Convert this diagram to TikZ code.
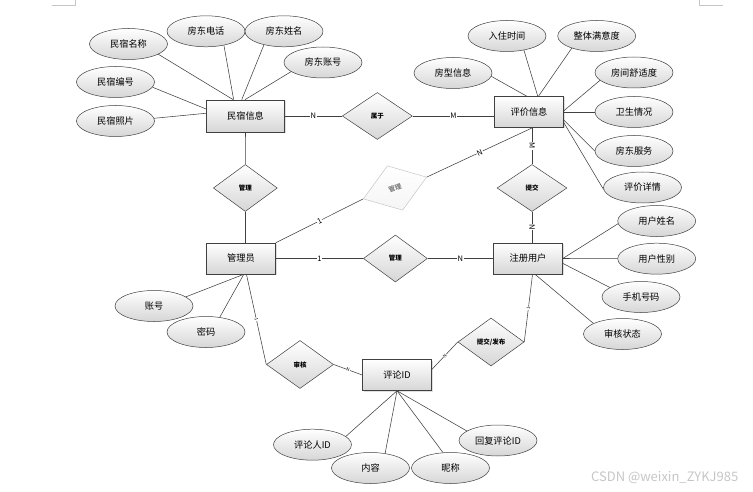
\documentclass[tikz,border=0pt]{standalone}
\usepackage{fontspec}
\setmainfont{Noto Sans CJK SC}
\usetikzlibrary{shapes.geometric}
\usetikzlibrary{shadows}

\definecolor{lnc}{HTML}{404040}
\definecolor{shd}{HTML}{D6D6D6}

\begin{document}
\begin{tikzpicture}[x=1pt,y=-1pt,
    ln/.style={draw=lnc,line width=0.55pt},
    ent/.style={draw=lnc,line width=0.6pt,top color=white,bottom color=shd,
        minimum width=69,minimum height=31,inner sep=0pt,
        font=\fontsize{9.2}{10}\selectfont,
        drop shadow={opacity=0.25,shadow xshift=1pt,shadow yshift=-1pt}},
    attr/.style={ellipse,draw=lnc,line width=0.5pt,top color=white,bottom color=shd,
        minimum width=78,minimum height=31,inner sep=0pt,
        font=\fontsize{9.2}{10}\selectfont},
    rel/.style={diamond,draw=lnc,line width=0.5pt,top color=white,bottom color=shd,
        minimum width=66,minimum height=47,inner sep=0pt,
        font=\fontsize{6.5}{7}\selectfont\bfseries},
    lab/.style={fill=white,inner sep=0.5pt,sloped,font=\fontsize{7.5}{8}\selectfont},
    tick/.style={fill=white,inner sep=0.3pt,sloped,font=\fontsize{4.5}{5}\selectfont}]

\useasboundingbox (0,0) rectangle (753,492);

\draw[gray!45] (51.7,5.3) -- (75,5.3) -- (75,0);
\draw[gray!45] (699,0) -- (699,5.3) -- (722.7,5.3);

\node[ent,minimum width=78,minimum height=32] (msxx) at (245.5,116) {民宿信息};
\node[ent] (pjxx) at (529,112) {评价信息};
\node[ent] (gly) at (241,258.5) {管理员};
\node[ent] (zcyh) at (528,258.5) {注册用户};
\node[ent] (plid) at (397,375) {评论ID};

\node[attr] (mscm) at (128.5,44) {民宿名称};
\node[attr] (fddh) at (206,31.3) {房东电话};
\node[attr] (fdxm) at (284,31.3) {房东姓名};
\node[attr] (fdzh) at (323,62.5) {房东账号};
\node[attr] (msbh) at (115.5,82) {民宿编号};
\node[attr] (mszp) at (115.5,121) {民宿照片};

\node[attr] (fxxx) at (453,73) {房型信息};
\node[attr] (rzsj) at (507,36) {入住时间};
\node[attr] (ztmyd) at (596.7,36) {整体满意度};
\node[attr] (fjssd) at (634,72.5) {房间舒适度};
\node[attr] (wsqk) at (634,112) {卫生情况};
\node[attr] (fdfw) at (634,151) {房东服务};
\node[attr] (pjxq) at (642.5,187.5) {评价详情};

\node[attr] (yhxm) at (656.7,221) {用户姓名};
\node[attr] (yhxb) at (656.7,258.7) {用户性别};
\node[attr] (sjhm) at (641,297) {手机号码};
\node[attr] (shzt) at (622.5,334) {审核状态};

\node[attr] (zh) at (154,306) {账号};
\node[attr] (mm) at (206,332) {密码};

\node[attr] (plrid) at (312.5,444.7) {评论人ID};
\node[attr] (nr) at (370.5,468) {内容};
\node[attr] (nc) at (450.5,468) {昵称};
\node[attr] (hfplid) at (498,440.5) {回复评论ID};

\node[rel,minimum width=64] (gl1) at (245.3,188) {管理};
\node[rel,minimum width=70] (shuyu) at (377.3,116) {属于};
\node[rel,minimum width=67,rotate=19,draw=gray!45,text=gray,bottom color=gray!8] (gl3) at (395,188) {管理};
\node[rel,minimum width=70] (tj) at (532,188) {提交};
\node[rel,minimum width=64] (gl2) at (395.4,258.5) {管理};
\node[rel,minimum width=67,minimum height=48] (sh) at (300,364.5) {审核};
\node[rel,minimum width=66,minimum height=48] (tjfb) at (491,342) {提交/发布};

\coordinate (pjw) at (shuyu.east -| pjxx.west);
\coordinate (pjs) at (tj.north |- pjxx.south);
\coordinate (zcn) at (tj.south |- zcyh.north);
\coordinate (glyn) at (gl1.south |- gly.north);

\foreach \from/\to in {msxx.127/mscm.-19, msxx.126/fddh.-38, msxx.103/fdxm.-146,
    msxx.92/fdzh.-164, msxx.170/msbh.-8, msxx.176/mszp.4,
    pjxx.98/fxxx.-5, pjxx.61/rzsj.-40, pjxx.59/ztmyd.-154, pjxx.2/fjssd.-167,
    pjxx.east/wsqk.west, pjxx.-13/fdfw.180, pjxx.-17/pjxq.-177,
    zcyh.east/yhxm.-176, zcyh.east/yhxb.west, zcyh.-8/sjhm.163, zcyh.-66/shzt.160,
    gly.-80/zh.16, gly.-80/mm.47,
    plid.south/plrid.14, plid.south/nr.45, plid.south/nc.116, plid.south/hfplid.163,
    msxx.south/gl1.north, gl1.south/glyn}
    \draw[ln] (\from) -- (\to);

\foreach \from/\to/\t in {msxx.east/shuyu.west/N, shuyu.east/pjw/M, pjs/tj.north/M,
    tj.south/zcn/N, gl3.east/pjxx.-78/N, gly.north east/gl3.west/1,
    gly.east/gl2.west/1, gl2.east/zcyh.west/N}
    \draw[ln] (\from) -- node[lab] {\t} (\to);

\foreach \from/\to/\t in {gly.-71/sh.west/1, sh.east/plid.west/N,
    plid.9/tjfb.west/N, tjfb.east/zcyh.-74/1}
    \draw[ln] (\from) -- node[tick] {\t} (\to);

\node[text=gray!45,font=\fontsize{13}{14}\selectfont] (wm) at (664.7,478) {CSDN @weixin\_ZYKJ985};

\end{tikzpicture}
\end{document}
